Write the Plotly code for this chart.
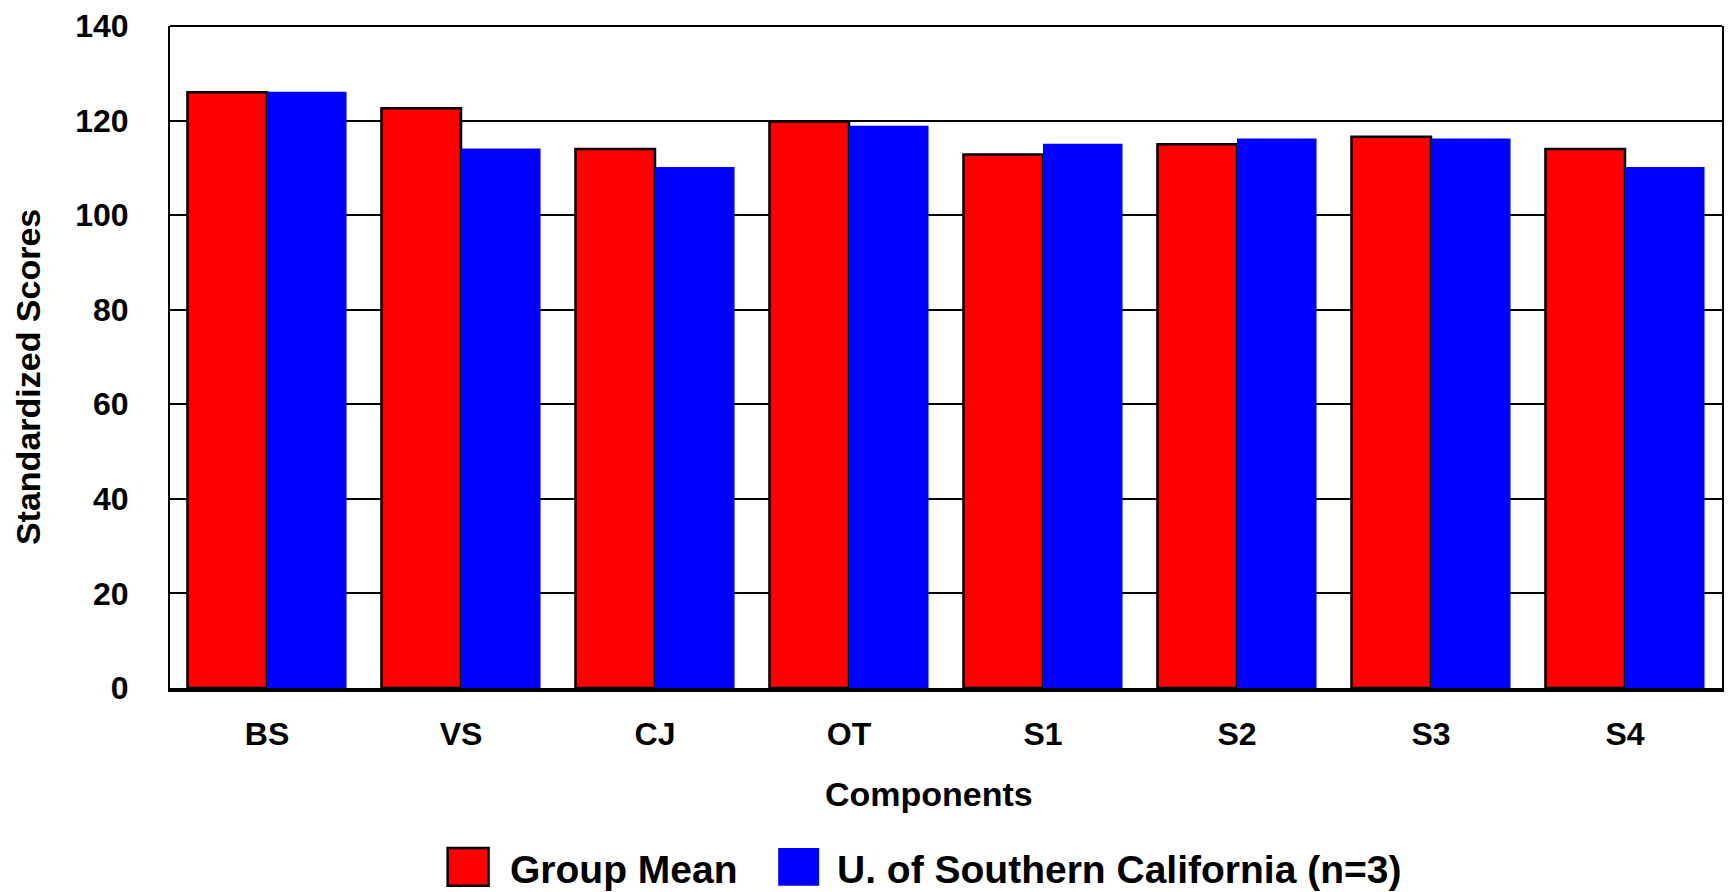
import plotly.graph_objects as go

categories = ["BS", "VS", "CJ", "OT", "S1", "S2", "S3", "S4"]
group_mean = [126.0, 122.6, 114.0, 119.8, 112.8, 115.0, 116.6, 114.0]
usc = [126.1, 114.1, 110.2, 118.9, 115.1, 116.2, 116.2, 110.2]
series_names = ["Group Mean", "U. of Southern California (n=3)"]
y_ticks = [0, 20, 40, 60, 80, 100, 120, 140]

FONT = "Liberation Sans, Arial, sans-serif"
W, H = 1732, 892
L, R, T, B = 170, 8, 22, 204
PW, PH = W - L - R, H - T - B

fig = go.Figure()
fig.add_trace(go.Bar(x=categories, y=group_mean, name=series_names[0],
                     marker=dict(color="#ff0000", line=dict(color="black", width=2.5))))
fig.add_trace(go.Bar(x=categories, y=usc, name=series_names[1],
                     marker=dict(color="#0000ff", line=dict(color="#0000ff", width=0))))

fig.update_layout(
    width=W, height=H,
    margin=dict(l=L, r=R, t=T, b=B),
    paper_bgcolor="white", plot_bgcolor="white",
    barmode="group", bargap=0.18, bargroupgap=0,
    showlegend=False,
    font=dict(family=FONT, color="black", size=32, weight="bold"),
)
fig.update_yaxes(range=[0, 140], tickvals=y_ticks, showgrid=True, gridcolor="black",
                 gridwidth=2, showline=True, linecolor="black", linewidth=2, mirror=True,
                 ticks="", ticklabelstandoff=33, zeroline=False,
                 tickfont=dict(family=FONT, size=32, color="black", weight="bold"))
fig.update_xaxes(showline=True, linecolor="black", linewidth=4, ticks="",
                 ticklabelstandoff=15,
                 tickfont=dict(family=FONT, size=32, color="black", weight="bold"))

def px_x(p):
    return (p - L) / PW

def px_y(p):
    return (H - B - p) / PH

# top frame line
fig.add_shape(type="line", xref="paper", yref="paper", x0=0, x1=1, y0=1, y1=1,
              line=dict(color="black", width=2))

# axis titles
fig.add_annotation(text="Components", xref="paper", yref="paper", x=px_x(930), y=px_y(795),
                   xanchor="center", yanchor="middle", showarrow=False,
                   font=dict(family=FONT, size=34, color="black", weight="bold"))
fig.add_annotation(text="Standardized Scores", xref="paper", yref="paper", x=px_x(28), y=px_y(375),
                   xanchor="center", yanchor="middle", textangle=-90, showarrow=False,
                   font=dict(family=FONT, size=34, color="black", weight="bold"))

# legend (drawn manually for large swatches)
legend_items = [(series_names[0], "#ff0000", "black", 448, 508),
                (series_names[1], "#0000ff", "#0000ff", 779, 836)]
for name, fill, edge, sx, tx in legend_items:
    fig.add_shape(type="rect", xref="paper", yref="paper",
                  x0=px_x(sx), x1=px_x(sx + 41), y0=px_y(887), y1=px_y(849),
                  fillcolor=fill, line=dict(color=edge, width=2.5 if edge == "black" else 0))
    fig.add_annotation(text=name, xref="paper", yref="paper", x=px_x(tx), y=px_y(871),
                       xanchor="left", yanchor="middle", showarrow=False,
                       font=dict(family=FONT, size=39, color="black", weight="bold"))

fig.write_html("out.html", config={"displayModeBar": False},
               post_script="document.body.style.margin='0';")
